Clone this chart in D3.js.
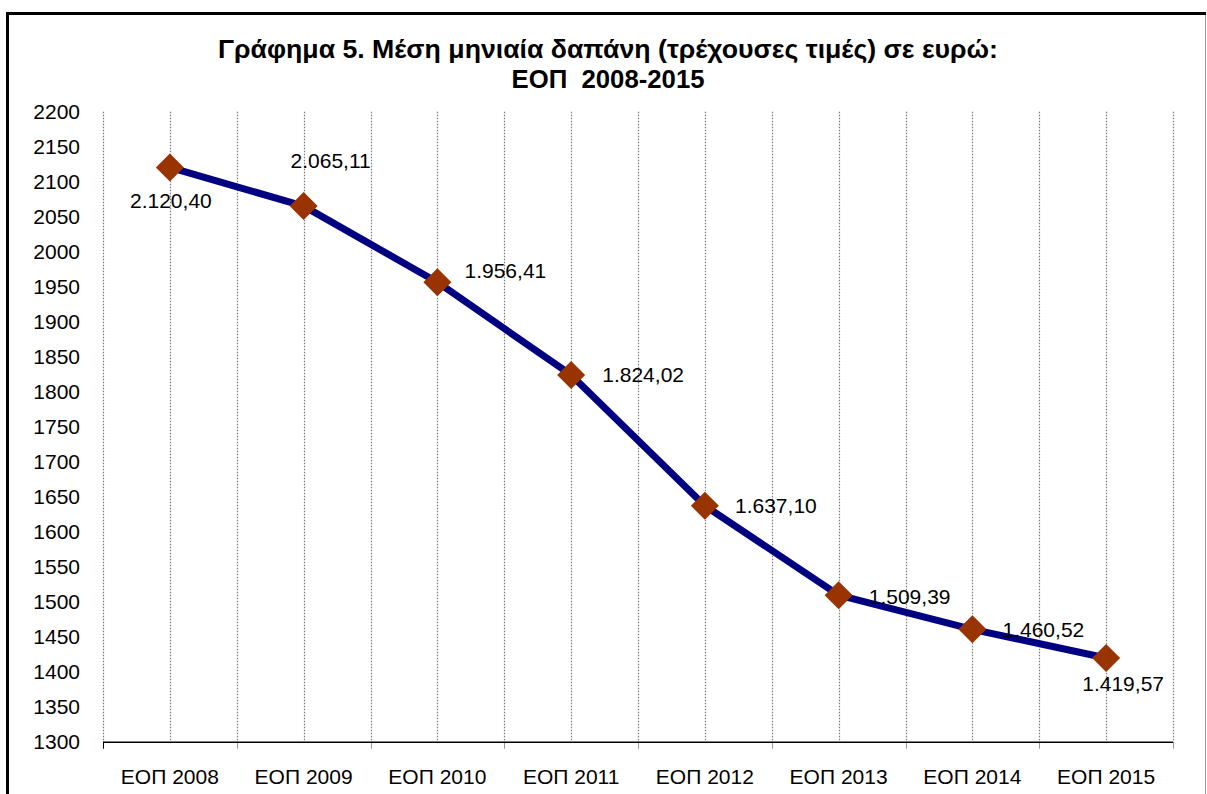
<!DOCTYPE html>
<html>
<head>
<meta charset="utf-8">
<script src="https://cdn.jsdelivr.net/npm/d3@7"></script>
<style>
  html, body {
    margin: 0;
    padding: 0;
    background: #ffffff;
  }
  svg {
    display: block;
  }
  text {
    font-family: "Liberation Sans", Arial, sans-serif;
    fill: #000000;
  }
  .chart-title {
    font-family: "Liberation Sans", Arial, sans-serif;
    font-weight: bold;
    font-size: 25px;
    white-space: pre;
  }
</style>
</head>
<body>
<svg id="chart" width="1207" height="794"></svg>
<script>
const TITLE_LINES = [
  "Γράφημα 5. Μέση μηνιαία δαπάνη (τρέχουσες τιμές) σε ευρώ:",
  "ΕΟΠ  2008-2015"
];

const CATEGORIES = [
  "ΕΟΠ 2008", "ΕΟΠ 2009", "ΕΟΠ 2010", "ΕΟΠ 2011",
  "ΕΟΠ 2012", "ΕΟΠ 2013", "ΕΟΠ 2014", "ΕΟΠ 2015"
];

const SPENDING = [2120.40, 2065.11, 1956.41, 1824.02, 1637.10, 1509.39, 1460.52, 1419.57];

const Y_MIN = 1300;
const Y_MAX = 2200;
const Y_STEP = 50;

// where each data label sits relative to its marker (text centre, baseline)
const LABEL_OFFSETS = [
  [1, 41], [27, -38], [68, -4], [72, 7],
  [71, 7], [71, 9], [71, 8], [17, 33]
];

const WIDTH = 1207;
const HEIGHT = 794;
const PLOT = {left: 103, right: 1173, top: 111.7, bottom: 741.7};
const FONT_SIZE = 21;

const LINE_COLOR = "#000080";
const MARKER_COLOR = "#993300";
const GRID_COLOR = "#7a7a7a";


function formatGreek(value) {
  const parts = value.toFixed(2).split(".");
  const whole = parts[0].replace(/\B(?=(\d{3})+(?!\d))/g, ".");
  return whole + "," + parts[1];
}


function drawChart() {
  const svg = d3.select("#chart");

  // outer frame (cut at the bottom edge, as in the source)
  svg.append("line")
    .attr("x1", 7.5).attr("x2", 7.5)
    .attr("y1", 12).attr("y2", HEIGHT + 5)
    .attr("stroke", "#000").attr("stroke-width", 3);
  svg.append("line")
    .attr("x1", 6).attr("x2", 1206)
    .attr("y1", 13.5).attr("y2", 13.5)
    .attr("stroke", "#000").attr("stroke-width", 3);
  svg.append("line")
    .attr("x1", 1205.5).attr("x2", 1205.5)
    .attr("y1", 15).attr("y2", HEIGHT + 5)
    .attr("stroke", "#999").attr("stroke-width", 1);

  // title, squeezed to the width of the original narrow face
  const titleWidths = [780, 193];
  const titleBaselines = [58, 88];
  TITLE_LINES.forEach((line, i) => {
    svg.append("text")
      .classed("chart-title", true)
      .attr("text-anchor", "middle")
      .attr("x", 608)
      .attr("y", titleBaselines[i])
      .attr("textLength", titleWidths[i])
      .attr("lengthAdjust", "spacingAndGlyphs")
      .text(line);
  });

  const xBand = d3.scaleBand()
    .domain(CATEGORIES)
    .range([PLOT.left, PLOT.right])
    .paddingInner(0)
    .paddingOuter(0);

  const xCenter = (name) => xBand(name) + xBand.bandwidth() / 2;

  const y = d3.scaleLinear()
    .domain([Y_MIN, Y_MAX])
    .range([PLOT.bottom, PLOT.top]);

  // vertical dotted gridlines at every band edge and centre
  const gridXs = [];
  CATEGORIES.forEach((name) => {
    gridXs.push(xBand(name));
    gridXs.push(xCenter(name));
  });
  gridXs.push(PLOT.right);

  svg.append("g")
    .selectAll("line")
    .data(gridXs)
    .join("line")
    .attr("x1", (d) => Math.round(d) + 0.5)
    .attr("x2", (d) => Math.round(d) + 0.5)
    .attr("y1", PLOT.top)
    .attr("y2", PLOT.bottom)
    .attr("stroke", GRID_COLOR)
    .attr("stroke-width", 1.2)
    .attr("stroke-dasharray", "1.5,1.5");

  // y axis labels, no axis line
  const yTicks = d3.range(Y_MIN, Y_MAX + 1, Y_STEP);
  const yAxis = d3.axisLeft(y)
    .tickValues(yTicks)
    .tickSize(0)
    .tickPadding(23)
    .tickFormat(d3.format("d"));

  const yAxisG = svg.append("g")
    .attr("transform", "translate(" + PLOT.left + ",0)")
    .call(yAxis);
  yAxisG.select(".domain").remove();
  yAxisG.selectAll("text")
    .attr("font-family", "Liberation Sans, Arial, sans-serif")
    .attr("font-size", FONT_SIZE)
    .attr("fill", "#000");

  // x axis: solid line, ticks at band edges, labels at centres
  const xAxisG = svg.append("g")
    .attr("transform", "translate(0," + PLOT.bottom + ")");

  xAxisG.selectAll(".x-tick")
    .data(CATEGORIES.map((name) => xBand(name)).concat([PLOT.right]))
    .join("line")
    .classed("x-tick", true)
    .attr("x1", (d) => Math.round(d) + 0.5)
    .attr("x2", (d) => Math.round(d) + 0.5)
    .attr("y1", 0)
    .attr("y2", 7)
    .attr("stroke", (d, i) => i === 0 ? "#000" : "#999")
    .attr("stroke-width", 1);

  xAxisG.append("line")
    .attr("x1", PLOT.left)
    .attr("x2", PLOT.right)
    .attr("y1", 0.5)
    .attr("y2", 0.5)
    .attr("stroke", "#000")
    .attr("stroke-width", 1.5);

  xAxisG.selectAll(".x-label")
    .data(CATEGORIES)
    .join("text")
    .classed("x-label", true)
    .attr("x", (d) => xCenter(d))
    .attr("y", 42)
    .attr("text-anchor", "middle")
    .attr("font-size", FONT_SIZE)
    .text((d) => d);

  // series line
  const points = CATEGORIES.map((name, i) => ({name: name, value: SPENDING[i], offset: LABEL_OFFSETS[i]}));

  const lineGen = d3.line()
    .x((d) => xCenter(d.name))
    .y((d) => y(d.value));

  svg.append("path")
    .datum(points)
    .attr("d", lineGen)
    .attr("fill", "none")
    .attr("stroke", LINE_COLOR)
    .attr("stroke-width", 7)
    .attr("stroke-linejoin", "round");

  // diamond markers
  const diamond = d3.symbol().type(d3.symbolSquare).size(392);
  svg.append("g")
    .selectAll("path")
    .data(points)
    .join("path")
    .attr("d", diamond)
    .attr("transform", (d) => "translate(" + xCenter(d.name) + "," + y(d.value) + ") rotate(45)")
    .attr("fill", MARKER_COLOR);

  // data labels
  svg.append("g")
    .selectAll("text")
    .data(points)
    .join("text")
    .attr("x", (d) => xCenter(d.name) + d.offset[0])
    .attr("y", (d) => y(d.value) + d.offset[1])
    .attr("text-anchor", "middle")
    .attr("font-size", FONT_SIZE)
    .text((d) => formatGreek(d.value));
}


drawChart();
</script>
</body>
</html>
